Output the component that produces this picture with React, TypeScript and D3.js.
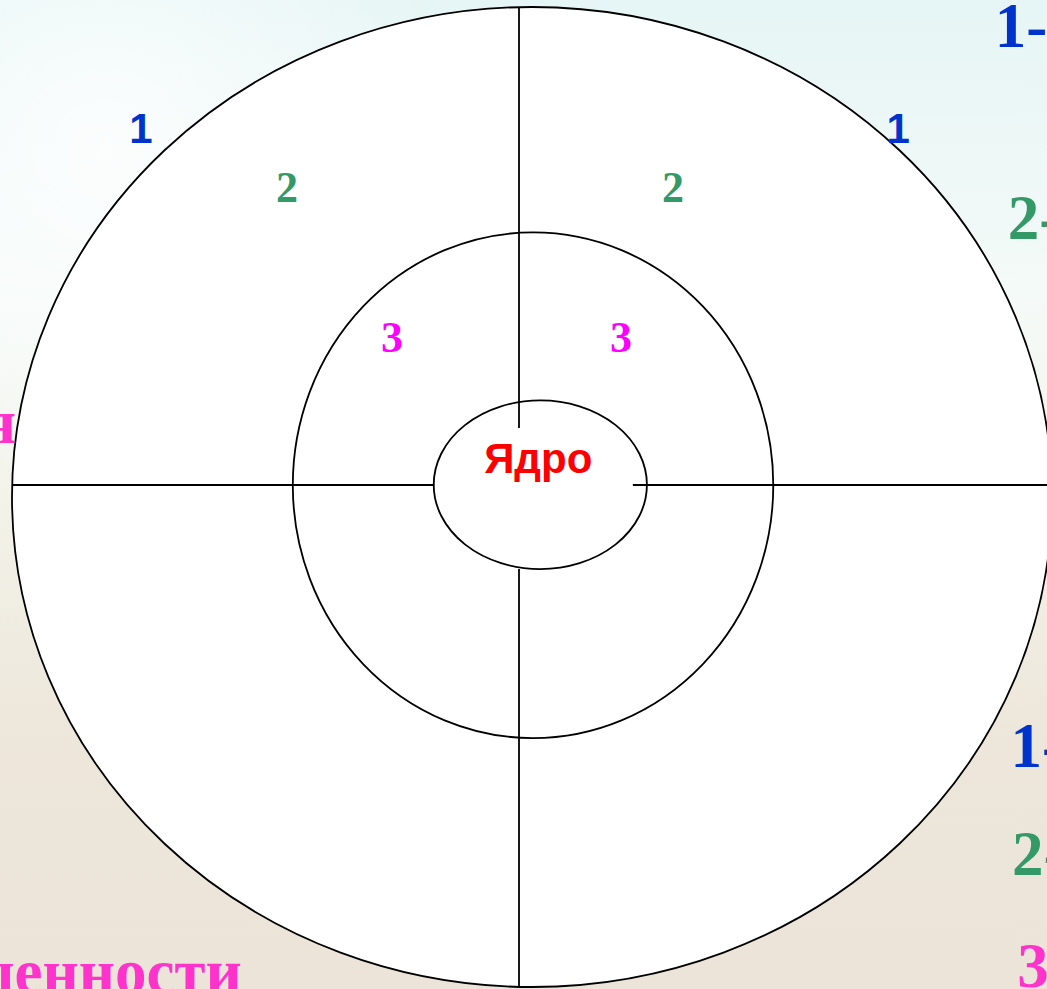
import React from 'react';
import * as d3 from 'd3';

const width = 1047;
const height = 989;

// layout units: outer ring = -100..100 on both axes
const ringNames = ['outer', 'middle', 'core'];
const ringRx = [100, 46.2, 20.5];
const ringRy = [100, 51.6, 17.2];
const ringCx = [0, 0.2, 1.6];
const ringCy = [0, -2.4, -2.5];

// cross lines [x1, y1, x2, y2]
const crossLines = [
  [-2.5, -100, -2.5, -14.1],
  [-2.5, 14.7, -2.5, 99.8],
  [-100, -2.45, -18.8, -2.45],
  [19.4, -2.45, 101, -2.45],
];

const zoneLabels = ['1', '1', '2', '2', '3', '3'];
const zoneX = [-75.2, 70.4, -47.1, 27.1, -26.9, 17.1];
const zoneY = [-72.2, -72.2, -60.2, -60.2, -29.6, -29.6];
const zoneColor = ['#0033cc', '#0033cc', '#339966', '#339966', '#ff00ff', '#ff00ff'];

const coreLabel = 'Ядро';
const coreX = 1.2;
const coreY = -4.9;

// fragments of the slide text around the chart
const sideText = ['1- зона', '2- зона', '1- зона', '2- зона', '3', 'я', 'ценности'];
const sideX = [89, 91.5, 92, 92.3, 93.3, -99.2, -55.8];
const sideY = [-91.8, -52.6, 55.1, 77.1, 100, -11, 101.2];
const sideColor = ['#0033cc', '#339966', '#0033cc', '#339966', '#ff33cc', '#ff33cc', '#ff33cc'];
const sideAnchor = ['start', 'start', 'start', 'start', 'start', 'end', 'end'];

const App = () => {
  const x = d3.scaleLinear().domain([-100, 100]).range([12, 1052]);
  const y = d3.scaleLinear().domain([-100, 100]).range([7, 987]);
  const kx = (v) => x(v) - x(0);
  const ky = (v) => y(v) - y(0);

  return (
    <svg
      width={width}
      height={height}
      style={{ position: 'fixed', left: 0, top: 0 }}
    >
      <defs>
        <linearGradient id="bg" x1="0" y1="0" x2="0" y2="1">
          <stop offset="0" stopColor="#e6f5f5" />
          <stop offset="0.3" stopColor="#f4faf8" />
          <stop offset="0.5" stopColor="#f3f3ea" />
          <stop offset="0.75" stopColor="#ede6da" />
          <stop offset="1" stopColor="#ece4d8" />
        </linearGradient>
        <radialGradient id="glow" cx="0.1" cy="0.15" r="0.35">
          <stop offset="0" stopColor="#ffffff" stopOpacity="0.8" />
          <stop offset="1" stopColor="#ffffff" stopOpacity="0" />
        </radialGradient>
      </defs>
      <rect width={width} height={height} fill="url(#bg)" />
      <rect width={width} height={height} fill="url(#glow)" />

      {ringNames.map((name, i) => (
        <ellipse
          key={name}
          cx={x(ringCx[i])}
          cy={y(ringCy[i])}
          rx={kx(ringRx[i])}
          ry={ky(ringRy[i])}
          fill="#ffffff"
          stroke="#000"
          strokeWidth={1.8}
        />
      ))}

      {crossLines.map((l, i) => (
        <line
          key={i}
          x1={x(l[0])}
          y1={y(l[1])}
          x2={x(l[2])}
          y2={y(l[3])}
          stroke="#000"
          strokeWidth={1.8}
        />
      ))}

      {zoneLabels.map((t, i) => (
        <text
          key={i}
          x={x(zoneX[i])}
          y={y(zoneY[i])}
          textAnchor="middle"
          fill={zoneColor[i]}
          fontWeight="bold"
          fontFamily={t === '1' ? 'Liberation Sans, Arial, sans-serif' : 'Liberation Serif, Times New Roman, serif'}
          fontSize={t === '1' ? 42 : 44}
        >
          {t}
        </text>
      ))}

      <text
        x={x(coreX)}
        y={y(coreY)}
        textAnchor="middle"
        fill="#ff0000"
        fontWeight="bold"
        fontFamily="Liberation Sans, Arial, sans-serif"
        fontSize={42}
      >
        {coreLabel}
      </text>

      {sideText.map((t, i) => (
        <text
          key={i}
          x={x(sideX[i])}
          y={y(sideY[i])}
          textAnchor={sideAnchor[i]}
          fill={sideColor[i]}
          fontWeight="bold"
          fontFamily="Liberation Serif, Times New Roman, serif"
          fontSize={63}
        >
          {t}
        </text>
      ))}
    </svg>
  );
};

export default App;
